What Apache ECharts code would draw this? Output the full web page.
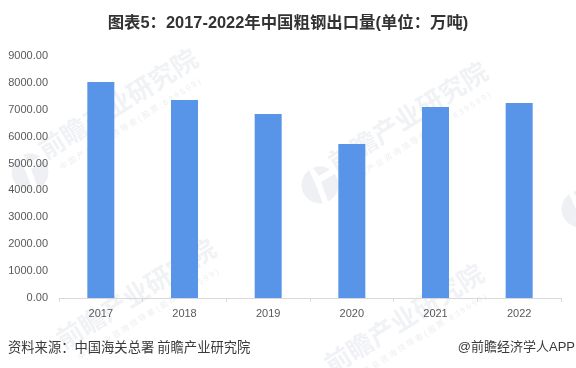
<!DOCTYPE html>
<html>
<head>
<meta charset="utf-8">
<title>chart</title>
<style>
html, body { margin: 0; padding: 0; background: #fff; }
#main { width: 576px; height: 368px; }
</style>
<script src="https://cdn.jsdelivr.net/npm/echarts@6/dist/echarts.min.js"></script>
</head>
<body>
<div id="main"></div>
<script>
//粗钢出口量数据
var categories = ['2017', '2018', '2019', '2020', '2021', '2022'];
var exportValues = [8030, 7360, 6840, 5725, 7100, 7250];
var titleText = '图表5：2017-2022年中国粗钢出口量(单位：万吨)';
var sourceText = '资料来源：中国海关总署 前瞻产业研究院';
var brandText = '@前瞻经济学人APP';
var markName = '前瞻产业研究院';
var markSub = '中 国 产 业 咨 询 领 导 者 ( 股 票 : 8 3 9 5 9 9 )';
var cjk = '"Liberation Sans", "Noto Sans CJK SC", sans-serif';

//水印
function watermark(x, y) {
	return {
		type: 'group',
		x: x,
		y: y,
		rotation: 32 * Math.PI / 180,
		z: -10,
		children: [
			{ type: 'text', x: 0, y: 0, style: { text: markName, fill: '#f0f2f5', font: 'bold 26px ' + cjk, textAlign: 'left', textVerticalAlign: 'bottom' } },
			{ type: 'text', x: 8, y: 5, style: { text: markSub, fill: '#eceef1', font: '8px ' + cjk, textAlign: 'left', textVerticalAlign: 'top' } }
		]
	};
}
function logo(x, y) {
	return {
		type: 'group',
		x: x,
		y: y,
		z: -10,
		children: [
			{ type: 'circle', shape: { cx: 0, cy: 0, r: 18.5 }, style: { fill: '#eef0f4' } },
			{ type: 'polygon', shape: { points: [[-11, -15], [-7, -17], [-1, -9], [12, -17], [16, -12], [1, -3], [9, 19], [3, 19], [-4, 0]] }, style: { fill: '#fff' } }
		]
	};
}

var chart = echarts.init(document.getElementById('main'));
var option = {
	animation: false,
	backgroundColor: '#fff',
	title: {
		text: titleText,
		left: 'center',
		top: 10,
		textStyle: { fontSize: 16.4, fontWeight: 'bold', color: '#333', fontFamily: cjk }
	},
	grid: { left: 59, right: 15, top: 56, bottom: 70 },
	xAxis: {
		type: 'category',
		data: categories,
		axisLine: { lineStyle: { color: '#d9d9d9' } },
		axisTick: { show: true, length: 4, lineStyle: { color: '#d9d9d9' } },
		axisLabel: { color: '#595959', fontSize: 11, margin: 10, fontFamily: '"Liberation Sans", sans-serif' }
	},
	yAxis: {
		type: 'value',
		min: 0,
		max: 9000,
		interval: 1000,
		axisLine: { show: false },
		axisTick: { show: false },
		splitLine: { show: false },
		axisLabel: {
			color: '#595959',
			fontSize: 11,
			margin: 11,
			fontFamily: '"Liberation Sans", sans-serif',
			formatter: function (v) { return v.toFixed(2); }
		}
	},
	series: [{
		type: 'bar',
		data: exportValues,
		barWidth: 27,
		itemStyle: { color: '#5895e8' }
	}],
	graphic: [
		watermark(49, 165),
		watermark(339, 178),
		watermark(67, 355),
		watermark(335, 380),
		logo(30, 172),
		logo(320, 185),
		logo(580, 209),
		{ type: 'rect', z: -5, shape: { x: 0, y: 328, width: 576, height: 40 }, style: { fill: '#fff' } },
		{ type: 'text', x: 8, y: 347, style: { text: sourceText, fill: '#3a3a3a', font: '13.3px "Noto Sans CJK SC", sans-serif', textVerticalAlign: 'middle' } },
		{ type: 'text', x: 575, y: 347, style: { text: brandText, fill: '#3a3a3a', font: '13px "Liberation Sans", "Noto Sans CJK SC", sans-serif', textAlign: 'right', textVerticalAlign: 'middle' } }
	]
};
chart.setOption(option);
</script>
</body>
</html>
